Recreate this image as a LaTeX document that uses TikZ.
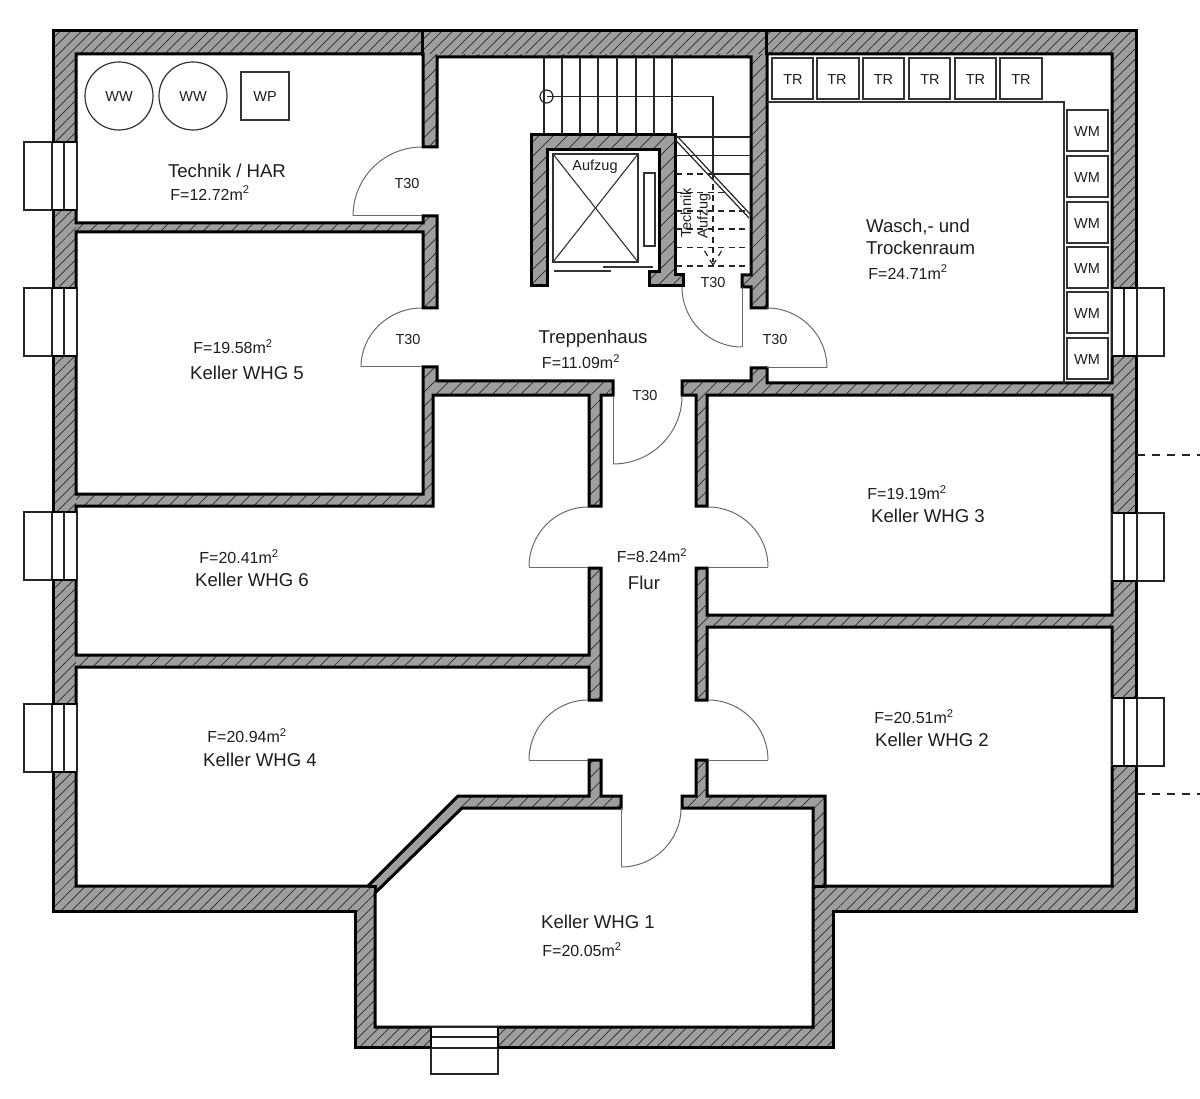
\documentclass[tikz,border=0pt]{standalone}
\usepackage{fontspec}
\setmainfont{Liberation Sans}
\usetikzlibrary{calc,patterns.meta}
\definecolor{wallgray}{HTML}{9E9E9E}
\definecolor{hatchc}{HTML}{2A2A2A}
\definecolor{doorc}{HTML}{6A6A6A}
\definecolor{ink}{HTML}{1E1E1E}
\tikzset{
  wallline/.style={draw=black,line width=3pt,line join=miter},
  thinbox/.style={draw=black!80,line width=1.3pt},
  door/.style={draw=doorc,line width=1pt},
  stairl/.style={draw=black!85,line width=1.2pt},
  staird/.style={draw=black!85,line width=1.2pt,dash pattern=on 6pt off 4.5pt},
  winbox/.style={draw=black!85,line width=1.2pt,fill=white},
  nm/.style={inner sep=0pt,text=ink,font=\fontsize{18.6}{20}\selectfont},
  fl/.style={inner sep=0pt,text=ink,font=\fontsize{16}{18}\selectfont},
  sm/.style={inner sep=0pt,text=ink,font=\fontsize{14.5}{16}\selectfont},
}
\newcommand{\doorleaf}[6]{% A B C : arc from A to B about C
  \draw[door] (#1,#2) .. controls ($(#1,#2)+0.5523*(#3,#4)-0.5523*(#5,#6)$) and ($(#3,#4)+0.5523*(#1,#2)-0.5523*(#5,#6)$) .. (#3,#4);}
\newcommand{\outerpoly}{(53,31) -- (1136,31) -- (1136,911) -- (833,911) -- (833,1047) -- (355,1047) -- (355,911) -- (53,911) -- cycle}
\newcommand{\innerpoly}{(76,54) -- (423,54) -- (423,147) -- (437,147) -- (437,57) -- (751,57) -- (751,275) -- (742,275) -- (742,287) -- (751,287) -- (751,308) -- (767,308) -- (767,54) -- (1112,54) -- (1112,383) -- (767,383) -- (767,368) -- (751,368) -- (751,381) -- (682,381) -- (682,395) -- (696,395) -- (696,506) -- (707,506) -- (707,395) -- (1112,395) -- (1112,615) -- (707,615) -- (707,568) -- (696,568) -- (696,700) -- (707,700) -- (707,627) -- (1112,627) -- (1112,886) -- (825,886) -- (825,796) -- (707,796) -- (707,760) -- (696,760) -- (696,796) -- (682,796) -- (682,808) -- (813,808) -- (813,1027) -- (375,1027) -- (375,893) -- (462,808) -- (621,808) -- (621,796) -- (601,796) -- (601,760) -- (589,760) -- (589,796) -- (458,796) -- (368,886) -- (76,886) -- (76,667) -- (589,667) -- (589,700) -- (601,700) -- (601,568) -- (589,568) -- (589,655) -- (76,655) -- (76,506) -- (433,506) -- (433,395) -- (589,395) -- (589,506) -- (601,506) -- (601,395) -- (613,395) -- (613,381) -- (437,381) -- (437,367) -- (423,367) -- (423,494) -- (76,494) -- (76,232) -- (423,232) -- (423,308) -- (437,308) -- (437,216) -- (423,216) -- (423,223) -- (76,223) -- cycle}
\newcommand{\shaftpoly}{(531,135) -- (675,135) -- (675,275) -- (683,275) -- (683,286) -- (649,286) -- (649,272) -- (659,272) -- (659,150) -- (547,150) -- (547,286) -- (531,286) -- cycle}
\newcommand{\ringhole}{(76,54) -- (1112,54) -- (1112,886) -- (813,886) -- (813,1027) -- (375,1027) -- (375,886) -- (76,886) -- cycle}
\begin{document}
\begin{tikzpicture}[x=1pt,y=-1pt]
\useasboundingbox (0,0) rectangle (1200,1099);
\fill[white] (0,0) rectangle (1200,1099);
% all walls, inner spacing
\fill[wallgray,even odd rule] \outerpoly \innerpoly \shaftpoly;
\fill[even odd rule,pattern={Lines[angle=45,distance=10pt,line width=0.7pt]},pattern color=hatchc] \outerpoly \innerpoly \shaftpoly;
% outer ring, denser hatch
\fill[wallgray,even odd rule] \outerpoly \ringhole;
\fill[even odd rule,pattern={Lines[angle=45,distance=7.5pt,line width=0.7pt]},pattern color=hatchc] \outerpoly \ringhole;
% wall outlines
\draw[wallline] \outerpoly;
\draw[wallline] \innerpoly;
\draw[wallline] \shaftpoly;
\draw[wallline] (368,886) -- (375,886) -- (375,893);
\draw[wallline] (813,886) -- (825,886);
\draw[wallline] (422,31) -- (422,56);
\draw[wallline] (766,31) -- (766,55);
% windows
\foreach \y in {142,288,512,704}{
  \draw[winbox] (24,\y) rectangle (77,\y+68);
  \draw[winbox] (64,\y) -- (64,\y+68);
  \draw[winbox] (52,\y) -- (52,\y+68);
  \draw[wallline,line width=2.5pt] (52,\y) -- (77,\y);
  \draw[wallline,line width=2.5pt] (52,\y+68) -- (77,\y+68);
}
\foreach \y in {288,513,698}{
  \draw[winbox] (1112,\y) rectangle (1164,\y+68);
  \draw[winbox] (1124,\y) -- (1124,\y+68);
  \draw[winbox] (1137,\y) -- (1137,\y+68);
  \draw[wallline,line width=2.5pt] (1112,\y) -- (1137,\y);
  \draw[wallline,line width=2.5pt] (1112,\y+68) -- (1137,\y+68);
}
\draw[winbox] (431,1027) rectangle (498,1074);
\draw[winbox] (431,1037) -- (498,1037);
\draw[winbox] (431,1048) -- (498,1048);
\draw[wallline,line width=2.5pt] (431,1027) -- (431,1048);
\draw[wallline,line width=2.5pt] (498,1027) -- (498,1048);
% doors
\doorleaf{422}{147}{353}{216}{422}{216}
\draw[door] (353,216) -- (422,216);
\doorleaf{422}{308}{361}{367}{422}{367}
\draw[door] (361,367) -- (422,367);
\doorleaf{767}{308}{827}{368}{767}{368}
\draw[door] (767,368) -- (827,368);
\doorleaf{682}{287}{742}{347}{742}{287}
\draw[door] (742,287) -- (742,347);
\doorleaf{682}{396}{613}{464}{613}{396}
\draw[door] (613,396) -- (613,464);
\doorleaf{588}{507}{529}{567}{588}{567}
\draw[door] (529,567) -- (588,567);
\doorleaf{708}{507}{768}{567}{708}{567}
\draw[door] (708,567) -- (768,567);
\doorleaf{588}{700}{529}{760}{588}{760}
\draw[door] (529,760) -- (588,760);
\doorleaf{708}{700}{768}{760}{708}{760}
\draw[door] (708,760) -- (768,760);
\doorleaf{681}{808}{621}{867}{621}{808}
\draw[door] (621,808) -- (621,867);
% stairs, upper flight
\foreach \x in {544,562,580,598,617,636,654,672}{
  \draw[stairl] (\x,57) -- (\x,134);
}
\draw[stairl] (546.5,96.5) circle (6.5);
\draw[stairl] (546.5,96.5) -- (713,96.5) -- (713,174);
\draw[staird] (713,174) -- (713,262);
\draw[staird] (713,265) -- (704,250);
\draw[staird] (713,265) -- (722,250);
% stairs, lower flight
\draw[stairl] (676,137) -- (750,137);
\draw[stairl] (676,155.5) -- (750,155.5);
\draw[staird] (676,174) -- (712,174);
\draw[stairl] (712,174) -- (750,174);
\draw[staird] (676,192.5) -- (727,192.5);
\foreach \y in {211,229,247.5,266}{
  \draw[staird] (676,\y) -- (750,\y);
}
\draw[stairl] (677,136) -- (750,214);
\draw[stairl] (674.5,139) -- (749,218);
% lift
\draw[thinbox,line width=1.1pt] (553,154) rectangle (638,262);
\draw[thinbox,line width=1.1pt] (553,154) -- (638,262);
\draw[thinbox,line width=1.1pt] (638,154) -- (553,262);
\draw[thinbox,line width=1.1pt] (644,173) rectangle (655,246);
\draw[thinbox,line width=1.1pt] (554,271) -- (611,271);
\draw[thinbox,line width=1.1pt] (603,267) -- (653,267);
% Technik equipment
\draw[thinbox,line width=1.2pt] (119,96) circle (34);
\draw[thinbox,line width=1.2pt] (193,96) circle (34);
\draw[thinbox,line width=1.2pt] (241,72) rectangle (289,120);
% laundry
\draw[thinbox] (767,102) -- (1064,102) -- (1064,383);
\foreach \x/\xx in {772/813,817/859,863/904,909/950,955/996,1000/1042}{
  \draw[thinbox] (\x,58) rectangle (\xx,99);
}
\foreach \y/\yy in {110/151,156/197,202/243,247/288,292/333,338/379}{
  \draw[thinbox] (1067,\y) rectangle (1108,\yy);
}
% section marks
\coordinate (secA) at (1137,455);
\coordinate (secAe) at (1200,455);
\coordinate (secB) at (1137,794);
\coordinate (secBe) at (1200,794);
\draw[draw=black!85,line width=1.2pt,dash pattern=on 8pt off 7pt] (secA) -- (secAe);
\draw[draw=black!85,line width=1.2pt,dash pattern=on 8pt off 7pt] (secB) -- (secBe);
% labels
\node[sm] (ww1) at (119,97) {WW};
\node[sm] (ww2) at (193,97) {WW};
\node[sm] (wp) at (265,97) {WP};
\node[nm] (tech) at (227,171) {Technik / HAR};
\node[fl] (ftech) at (210,193) {F=12.72m\textsuperscript{2}};
\node[sm] (t1) at (407,184) {T30};
\node[sm] (t2) at (408,340) {T30};
\node[sm] (t3) at (775,340) {T30};
\node[sm] (t4) at (713,283) {T30};
\node[sm] (t5) at (645,396) {T30};
\node[sm] (aufz) at (595,167) {Aufzug};
\node[sm,rotate=90] (tk) at (686,213) {Technik};
\node[sm,rotate=90] (az) at (704,216) {Aufzug};
\node[fl] (f5) at (233,347) {F=19.58m\textsuperscript{2}};
\node[nm] (k5) at (247,373) {Keller WHG 5};
\node[nm] (trep) at (593,339) {Treppenhaus};
\node[fl] (ftrep) at (581,362) {F=11.09m\textsuperscript{2}};
\node[nm,anchor=west] (wa) at (866,227) {Wasch,- und};
\node[nm,anchor=west] (tr) at (866,248) {Trockenraum};
\node[fl] (fw) at (908,272) {F=24.71m\textsuperscript{2}};
\node[fl] (f3) at (907,493) {F=19.19m\textsuperscript{2}};
\node[nm] (k3) at (928,516) {Keller WHG 3};
\node[fl] (f6) at (239,557) {F=20.41m\textsuperscript{2}};
\node[nm] (k6) at (252,580) {Keller WHG 6};
\node[fl] (ffl) at (652,556) {F=8.24m\textsuperscript{2}};
\node[nm] (flur) at (644,583) {Flur};
\node[fl] (f4) at (247,736) {F=20.94m\textsuperscript{2}};
\node[nm] (k4) at (260,760) {Keller WHG 4};
\node[fl] (f2) at (914,717) {F=20.51m\textsuperscript{2}};
\node[nm] (k2) at (932,740) {Keller WHG 2};
\node[nm] (k1) at (598,922) {Keller WHG 1};
\node[fl] (f1) at (582,950) {F=20.05m\textsuperscript{2}};
\foreach \x/\n in {793/a,837/b,883.5/c,930/d,975.5/e,1021/f}{
  \node[sm] (tr\n) at (\x,80) {TR};
}
\foreach \y/\n in {131/a,177/b,223/c,268/d,313/e,359/f}{
  \node[sm] (wm\n) at (1087,\y+1) {WM};
}
\end{tikzpicture}
\end{document}
